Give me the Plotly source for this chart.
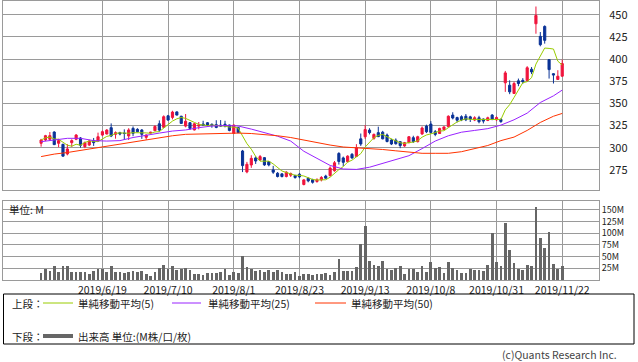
import pandas as pd
import plotly.graph_objects as go

# ---------------- data ----------------
holidays = ["2019-07-15", "2019-08-12", "2019-09-16", "2019-09-23",
            "2019-10-14", "2019-10-22", "2019-11-04"]
dates = [d.strftime("%Y-%m-%d") for d in pd.bdate_range("2019-05-30", "2019-11-22")
         if d.strftime("%Y-%m-%d") not in holidays]

opens = [305.0, 308.7, 309.5, 317.7, 305.0, 303.8, 292.9, 305.7, 309.5, 311.0,
         301.2, 303.0, 307.9, 307.6, 314.3, 315.5, 322.6, 315.1, 317.0, 316.6,
         313.2, 321.8, 320.7, 320.0, 311.7, 316.6, 319.2, 327.0, 323.0, 336.0,
         334.2, 340.4, 335.5, 324.4, 328.2, 320.0, 324.4, 326.7, 328.2, 326.3,
         326.0, 325.5, 326.5, 325.6, 316.2, 322.9, 296.3, 272.7, 280.5, 288.5,
         286.2, 288.8, 284.3, 275.0, 271.2, 270.5, 267.5, 269.0, 268.6, 270.1,
         258.5, 265.6, 264.0, 261.9, 263.7, 268.0, 268.5, 274.0, 293.5, 288.5,
         284.3, 292.5, 290.2, 310.0, 312.4, 319.9, 310.6, 317.0, 317.5, 314.3,
         308.7, 308.5, 306.8, 302.0, 305.7, 311.3, 306.8, 315.5, 324.4, 326.7,
         318.1, 316.0, 320.5, 323.7, 336.8, 334.0, 335.0, 335.5, 334.8, 331.2,
         333.8, 332.3, 330.8, 336.8, 331.5, 332.0, 373.2, 370.5, 361.2, 375.4,
         376.0, 375.7, 388.5, 439.8, 425.6, 436.8, 399.4, 383.5, 377.0, 380.7]
highs = [310.0, 314.5, 317.7, 318.5, 310.0, 304.5, 304.0, 309.5, 315.4, 312.0,
         307.0, 309.0, 311.0, 317.0, 319.5, 321.0, 327.4, 318.4, 318.0, 320.7,
         322.0, 324.0, 322.0, 321.0, 315.0, 318.0, 325.4, 330.8, 336.5, 337.0,
         341.7, 341.0, 336.0, 338.0, 329.0, 328.0, 329.0, 330.4, 329.0, 327.5,
         331.0, 331.2, 330.4, 326.0, 326.0, 323.5, 297.5, 284.0, 291.5, 290.3,
         291.8, 289.5, 285.0, 279.5, 272.5, 271.0, 273.5, 272.0, 269.5, 271.5,
         264.5, 266.5, 265.0, 265.5, 268.0, 269.5, 279.0, 285.0, 295.0, 290.0,
         291.5, 294.0, 304.0, 316.0, 325.6, 322.0, 316.0, 323.7, 319.0, 316.0,
         310.0, 310.5, 307.5, 306.5, 313.0, 313.5, 313.5, 324.0, 326.0, 330.0,
         320.0, 322.5, 324.0, 336.5, 340.0, 335.0, 336.5, 338.0, 336.0, 335.5,
         336.0, 333.0, 335.0, 338.0, 335.5, 333.0, 386.6, 376.0, 374.5, 378.0,
         378.5, 392.0, 391.0, 459.3, 430.5, 438.0, 399.4, 384.0, 387.4, 399.4]
lows = [301.2, 307.5, 308.0, 303.0, 300.5, 290.0, 291.4, 301.0, 308.5, 300.0,
        299.5, 302.0, 302.0, 306.6, 313.0, 315.0, 312.0, 310.2, 314.0, 308.7,
        308.7, 313.0, 317.5, 310.0, 309.0, 316.0, 318.8, 318.0, 322.6, 330.5,
        332.0, 336.5, 327.0, 323.0, 320.0, 319.5, 320.7, 325.0, 325.0, 322.5,
        322.0, 323.7, 323.0, 318.5, 316.0, 316.5, 272.5, 271.2, 277.3, 281.7,
        285.0, 279.5, 279.0, 270.5, 266.5, 266.5, 266.5, 267.0, 265.0, 265.5,
        257.5, 261.0, 259.5, 260.5, 262.0, 265.0, 267.5, 273.0, 281.0, 279.0,
        283.5, 287.5, 289.5, 302.0, 310.0, 315.0, 309.0, 312.0, 309.5, 306.0,
        303.0, 303.5, 299.5, 301.0, 305.0, 305.5, 306.0, 314.5, 316.5, 316.0,
        313.0, 315.5, 320.0, 323.0, 332.0, 328.5, 330.0, 330.0, 329.0, 330.0,
        327.5, 327.4, 330.0, 331.0, 330.0, 328.0, 363.0, 360.4, 361.0, 369.4,
        372.0, 374.5, 383.0, 428.6, 414.4, 417.4, 378.0, 372.4, 376.5, 380.0]
closes = [308.7, 313.6, 313.6, 303.5, 308.0, 290.5, 298.6, 308.0, 314.3, 302.7,
          305.7, 307.6, 305.7, 312.4, 318.1, 319.9, 313.2, 317.0, 315.5, 316.0,
          320.0, 316.2, 318.0, 315.1, 314.3, 317.4, 324.0, 319.9, 335.0, 331.2,
          340.2, 336.8, 327.4, 329.8, 321.8, 327.0, 325.6, 325.2, 325.2, 325.0,
          322.9, 324.5, 324.5, 319.5, 325.6, 317.0, 279.8, 281.3, 288.0, 285.0,
          290.0, 280.6, 280.6, 272.4, 267.5, 267.5, 272.4, 270.9, 266.4, 267.1,
          263.7, 262.6, 261.0, 263.7, 266.4, 265.6, 277.0, 283.0, 284.5, 283.5,
          290.5, 288.5, 300.0, 304.2, 320.5, 317.0, 315.0, 312.5, 310.0, 307.0,
          304.2, 304.5, 302.4, 305.7, 312.4, 306.8, 312.4, 322.2, 318.0, 317.3,
          315.0, 321.8, 323.5, 335.5, 333.5, 331.0, 331.5, 331.5, 332.5, 333.8,
          329.3, 330.0, 333.8, 332.0, 334.0, 329.5, 384.4, 363.0, 372.4, 372.4,
          374.5, 390.2, 385.5, 449.2, 416.2, 421.1, 388.1, 382.0, 380.6, 394.9]
volume_m = [15.9, 24.3, 19.4, 30.6, 18.0, 30.6, 30.6, 18.0, 18.0, 18.0,
            18.0, 13.8, 19.4, 23.6, 23.6, 16.6, 29.2, 18.0, 18.0, 15.2,
            18.0, 19.4, 16.6, 18.7, 13.8, 9.6, 18.0, 26.4, 32.7, 24.3,
            30.6, 22.2, 24.3, 26.4, 22.2, 13.8, 12.4, 11.0, 15.2, 15.2,
            15.2, 16.6, 23.6, 11.0, 16.6, 15.2, 51.6, 28.5, 24.3, 19.4,
            20.8, 16.6, 20.8, 18.0, 20.8, 16.6, 13.8, 13.8, 18.0, 9.6,
            13.8, 13.8, 11.7, 13.8, 13.8, 15.2, 10.3, 17.3, 45.0, 20.0,
            20.0, 20.0, 28.5, 76.8, 114.6, 41.0, 32.7, 30.6, 41.0, 24.3,
            22.2, 25.7, 30.6, 13.8, 24.3, 24.3, 16.6, 30.6, 18.0, 39.0,
            26.4, 28.5, 15.9, 39.0, 26.4, 21.5, 15.2, 15.2, 24.3, 22.2,
            22.2, 20.0, 32.7, 100.0, 39.0, 30.6, 123.0, 64.0, 37.0, 24.3,
            22.2, 32.7, 30.6, 156.6, 89.3, 68.4, 102.0, 34.8, 24.3, 30.6]

# moving averages at every third trading day
ma_pos = [0, 3, 6, 9, 12, 15, 18, 21, 24, 27, 30, 33, 36, 39, 42, 45, 48, 51, 54, 57,
          60, 63, 66, 69, 72, 75, 78, 81, 84, 87, 90, 93, 96, 99, 102, 105, 108, 111,
          114, 117, 119]
ma25 = [306.8, 308.5, 310.6, 310.6, 308.0, 307.5, 308.0, 311.5, 314.3, 316.5,
        318.8, 320.0, 322.6, 324.5, 325.0, 324.5, 321.0, 317.0, 313.0, 307.5,
        296.0, 288.0, 280.0, 276.0, 275.5, 278.0, 282.5, 287.0, 291.0, 299.0,
        307.5, 313.5, 317.5, 319.5, 321.5, 325.5, 331.5, 339.0, 351.0, 358.5,
        365.0]
ma50 = [290.0, 292.8, 294.6, 297.0, 299.5, 301.5, 303.8, 306.8, 309.0, 311.0,
        313.5, 315.1, 315.5, 316.0, 316.3, 316.5, 316.0, 315.0, 313.5, 311.5,
        308.5, 305.5, 303.0, 300.8, 300.0, 299.3, 298.0, 296.5, 295.0, 293.7,
        293.7, 293.7, 295.5, 299.0, 302.5, 308.0, 312.0, 319.5, 328.5, 335.5,
        338.7]

tick_dates = ["2019-06-19", "2019-07-10", "2019-08-01", "2019-08-23",
              "2019-09-13", "2019-10-08", "2019-10-31", "2019-11-22"]
tick_text = ["2019/6/19", "2019/7/10", "2019/8/1", "2019/8/23",
             "2019/9/13", "2019/10/8", "2019/10/31", "2019/11/22"]
price_ticks = [275, 300, 325, 350, 375, 400, 425, 450]
vol_ticks = [25, 50, 75, 100, 125, 150]
vol_text = ["25M", "50M", "75M", "100M", "125M", "150M"]

# ---------------- style ----------------
W, H = 638, 362
RED = "#f0143c"
BLUE = "#0a3296"
GREEN = "#99cc00"
PURPLE = "#9922ff"
ORANGE = "#ff3300"
GRID = "#9a9a9a"
FONT = "Noto Sans CJK JP"


def px(x):
    return x / W


def py(y):
    return 1 - y / H


ma5 = pd.Series(closes).rolling(5, min_periods=1).mean().tolist()
ma_dates = [dates[i] for i in ma_pos]

fig = go.Figure()
fig.add_trace(go.Candlestick(
    x=dates, open=opens, high=highs, low=lows, close=closes,
    xaxis="x", yaxis="y", whiskerwidth=0,
    increasing=dict(line=dict(color=RED, width=1), fillcolor=RED),
    decreasing=dict(line=dict(color=BLUE, width=1), fillcolor=BLUE),
    showlegend=False, hoverinfo="skip"))
fig.add_trace(go.Scatter(x=dates, y=ma5, mode="lines", line=dict(color=GREEN, width=1),
                         xaxis="x", yaxis="y", showlegend=False, hoverinfo="skip"))
fig.add_trace(go.Scatter(x=ma_dates, y=ma25, mode="lines", line=dict(color=PURPLE, width=1),
                         xaxis="x", yaxis="y", showlegend=False, hoverinfo="skip"))
fig.add_trace(go.Scatter(x=ma_dates, y=ma50, mode="lines", line=dict(color=ORANGE, width=1),
                         xaxis="x", yaxis="y", showlegend=False, hoverinfo="skip"))
fig.add_trace(go.Bar(x=dates, y=volume_m, marker=dict(color="#666666", line=dict(width=0)),
                     width=0.62, xaxis="x2", yaxis="y2", showlegend=False, hoverinfo="skip"))

xr = [-8.7, 127.4]
common_x = dict(type="category", categoryorder="array", categoryarray=dates,
                range=xr, tickvals=tick_dates, showgrid=True, gridcolor=GRID,
                gridwidth=1, showline=True, mirror=True, linecolor=GRID,
                zeroline=False, domain=[px(3), px(599)], fixedrange=True,
                automargin=False)
common_y = dict(side="right", showgrid=True, gridcolor=GRID, gridwidth=1,
                showline=True, mirror=True, linecolor=GRID, zeroline=False,
                fixedrange=True, automargin=False)

fig.update_layout(
    width=W, height=H, margin=dict(l=0, r=0, t=0, b=0),
    paper_bgcolor="white", plot_bgcolor="white",
    font=dict(family=FONT, size=11, color="#222"),
    xaxis=dict(**common_x, anchor="y", showticklabels=False,
               rangeslider=dict(visible=False)),
    xaxis2=dict(**common_x, anchor="y2", showticklabels=True, ticktext=tick_text,
                ticks="outside", ticklen=0, tickcolor="rgba(0,0,0,0)",
                tickfont=dict(family=FONT, size=10.5, color="#222")),
    yaxis=dict(**common_y, domain=[py(190), py(1)], range=[252.3, 465.5],
               tickvals=price_ticks, ticks="outside", ticklen=7,
               tickcolor="rgba(0,0,0,0)", anchor="x",
               tickfont=dict(family=FONT, size=11, color="#222")),
    yaxis2=dict(**common_y, domain=[py(280), py(201)], range=[0, 169],
                tickvals=vol_ticks, ticktext=vol_text, ticks="outside", ticklen=0,
                tickcolor="rgba(0,0,0,0)", anchor="x2",
                tickfont=dict(family=FONT, size=9, color="#222")),
    bargap=0,
)

shapes = [dict(type="rect", xref="paper", yref="paper", x0=px(3.5), x1=px(634),
               y0=py(344), y1=py(294), line=dict(color="#000", width=1))]
legend_lines = [(43, 73, 303, GREEN, 1), (172, 201, 303, PURPLE, 1),
                (315, 346, 303, ORANGE, 1), (43, 73, 336, "#666666", 4)]
for x0, x1, y, c, w in legend_lines:
    shapes.append(dict(type="line", xref="paper", yref="paper", x0=px(x0), x1=px(x1),
                       y0=py(y), y1=py(y), line=dict(color=c, width=w)))
fig.update_layout(shapes=shapes)

texts = [(10, 303, "上段："), (76, 303, "単純移動平均(5)"), (206, 303, "単純移動平均(25)"),
         (349, 303, "単純移動平均(50)"), (10, 336, "下段："),
         (76, 336, "出来高 単位:(M株/口/枚)"), (7, 209, "単位: M")]
ann = []
for x, y, t in texts:
    ann.append(dict(x=px(x), y=py(y), xref="paper", yref="paper", text=t,
                    showarrow=False, xanchor="left", yanchor="middle",
                    font=dict(family=FONT, size=10.5, color="#222")))
ann.append(dict(x=px(619), y=py(354), xref="paper", yref="paper",
                text="(c)Quants Research Inc.", showarrow=False, xanchor="right",
                yanchor="middle", font=dict(family=FONT, size=10.5, color="#444")))
fig.update_layout(annotations=ann)

fig.write_html("out.html", config={"displayModeBar": False},
               post_script="document.body.style.margin='0';"
                           "document.body.style.overflow='hidden';")
